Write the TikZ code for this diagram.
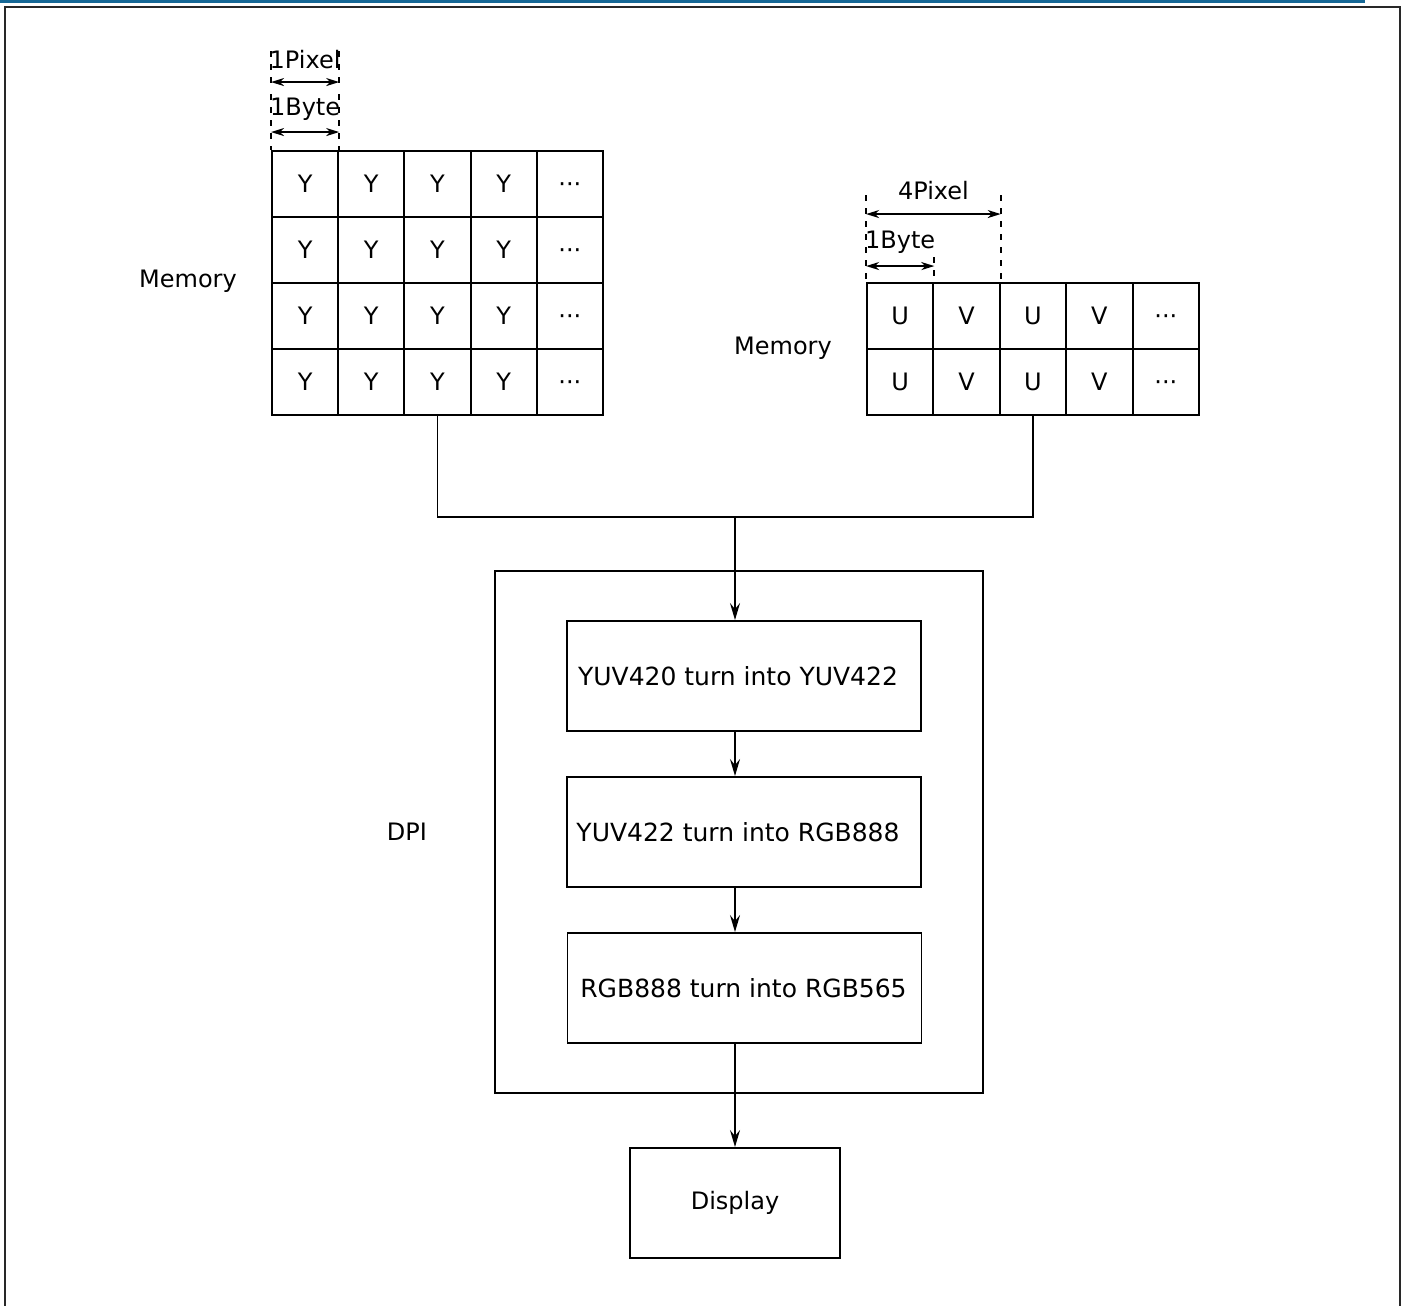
\documentclass[tikz,border=0pt]{standalone}
\usepackage{fontspec}
\setmainfont{DejaVu Sans}
\usetikzlibrary{arrows.meta,calc}
\definecolor{hdrblue}{RGB}{22,104,150}
\definecolor{framegray}{RGB}{40,40,40}
\tikzset{
  cell/.style={draw, minimum width=66.3pt, minimum height=66pt, inner sep=0pt, font=\fontsize{24}{28}\selectfont},
  procbox/.style={draw, minimum width=354pt, minimum height=110pt, inner sep=0pt},
  boxtext/.style={inner sep=0pt, font=\fontsize{25}{30}\selectfont},
  lbl/.style={inner sep=0pt, font=\fontsize{24}{28}\selectfont},
  arr/.style={-{Stealth[length=17pt,width=10pt,inset=6pt]}},
  dimarr/.style={{Stealth[length=13pt,width=8pt,inset=4pt]}-{Stealth[length=13pt,width=8pt,inset=4pt]}, line width=1.8pt},
  dimline/.style={dashed, dash pattern=on 6pt off 7pt, line width=1.8pt}
}
\newcommand{\mydots}{\smash{\raisebox{-8.5pt}{···}}}
\begin{document}
\begin{tikzpicture}[x=1pt,y=-1pt,line width=1.9pt]
\useasboundingbox (0,0) rectangle (1409,1306);
% header and frame
\fill[hdrblue] (0,0) rectangle (1365,3);
\draw[framegray,line width=2.4pt] (5,1310) -- (5,7) -- (1400,7) -- (1400,1310);

% Y grid
\foreach \r in {1,...,4}{
  \foreach \c/\t in {1/Y,2/Y,3/Y,4/Y,5/{\mydots}}{
    \node[cell] (y-\r-\c) at ({305.1+66.2*(\c-1)}, {184+66*(\r-1)}) {\t};
  }
}
% UV grid
\foreach \r in {1,2}{
  \foreach \c/\t in {1/U,2/V,3/U,4/V,5/{\mydots}}{
    \node[cell] (uv-\r-\c) at ({900.2+66.4*(\c-1)}, {316+66*(\r-1)}) {\t};
  }
}
\node[lbl] (mem1) at (188,281) {Memory};
\node[lbl] (mem2) at (783,348) {Memory};

% dimensions left
\coordinate (pa) at ($(y-1-1.north west)+(0,-99)$);
\coordinate (pb) at ($(y-1-1.north east)+(0,-99)$);
\draw[dimline] (pa) -- ++(0,38);
\draw[dimline] (pb) -- ++(0,38);
\draw[dimarr] ($(pa)+(0,31)$) -- ($(pb)+(0,31)$);
\node[lbl] (pix1) at ($(pa)!0.5!(pb)+(0,9)$) {1Pixel};
\coordinate (ba) at ($(y-1-1.north west)+(0,-56)$);
\coordinate (bb) at ($(y-1-1.north east)+(0,-56)$);
\draw[dimline] (ba) -- (y-1-1.north west);
\draw[dimline] (bb) -- (y-1-1.north east);
\draw[dimarr] ($(ba)+(0,38)$) -- ($(bb)+(0,38)$);
\node[lbl] (byte1) at ($(ba)!0.5!(bb)+(0,15)$) {1Byte};

% dimensions right
\coordinate (qa) at ($(uv-1-1.north west)+(0,-87)$);
\coordinate (qb) at ($(uv-1-2.north east)+(0,-87)$);
\draw[dimline] (qa) -- (uv-1-1.north west);
\draw[dimline] (qb) -- (uv-1-2.north east);
\draw[dimarr] ($(qa)+(0,19)$) -- ($(qb)+(0,19)$);
\node[lbl] (pix4) at ($(qa)!0.5!(qb)+(0,-4)$) {4Pixel};
\coordinate (qc) at ($(uv-1-1.north east)+(0,-25)$);
\draw[dimline] (qc) -- (uv-1-1.north east);
\draw[dimarr] ($(uv-1-1.north west)+(0,-16)$) -- ($(uv-1-1.north east)+(0,-16)$);
\node[lbl] (byte2) at ($(uv-1-1.north)+(0,-40)$) {1Byte};

% DPI block
\node[draw, minimum width=488pt, minimum height=522pt, inner sep=0pt] (dpi) at (739,832) {};
\node[lbl] (dpil) at (407,832) {DPI};
\node[procbox, label={[boxtext,xshift=-6pt]center:YUV420 turn into YUV422}] (b1) at (744,676) {};
\node[procbox, label={[boxtext,xshift=-6pt]center:YUV422 turn into RGB888}] (b2) at (744,832) {};
\node[procbox, label={[boxtext,xshift=-1pt]center:RGB888 turn into RGB565}] (b3) at (744.5,988) {};
\node[draw, minimum width=210pt, minimum height=110pt, inner sep=0pt, font=\fontsize{24}{28}\selectfont] (disp) at (735,1203) {Display};

% connectors
\coordinate (j) at (735,517);
\draw (y-4-3.south) |- (j) -| (uv-2-3.south);
\draw[arr] (j) -- (j |- b1.north);
\draw[arr] (j |- b1.south) -- (j |- b2.north);
\draw[arr] (j |- b2.south) -- (j |- b3.north);
\draw[arr] (j |- b3.south) -- (disp.north);
\end{tikzpicture}
\end{document}
